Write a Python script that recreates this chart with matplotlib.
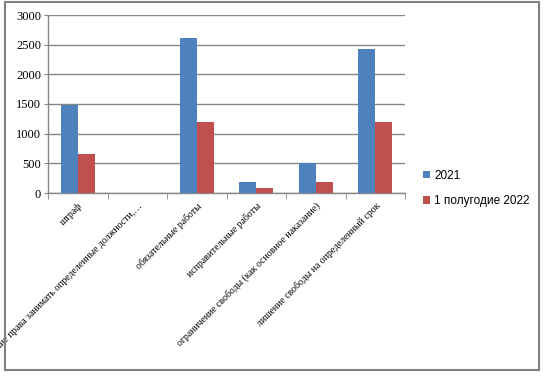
import matplotlib
matplotlib.use("Agg")
import matplotlib.pyplot as plt
import numpy as np
from matplotlib.patches import Rectangle

categories = ["штраф",
              "лишение права занимать определенные должности,…",
              "обязательные работы",
              "исправительные работы",
              "ограничение свободы (как основное наказание)",
              "лишение свободы на определенный срок"]
series_names = ["2021", "1 полугодие 2022"]
values_2021 = [1490, 0, 2620, 190, 500, 2420]
values_2022 = [660, 0, 1200, 90, 190, 1190]
yticks = [0, 500, 1000, 1500, 2000, 2500, 3000]

blue = "#4F81BD"
red = "#C0504D"
grey = "#868686"

fig = plt.figure(figsize=(5.46, 3.76), dpi=100)
fig.patches.append(Rectangle((5/546, 6/376), 534/546, 368/376, transform=fig.transFigure,
                             fill=False, edgecolor="#808080", linewidth=1.5))
ax = fig.add_axes([48/546, (376-193)/376, (405-48)/546, (193-15)/376])

x = np.arange(len(categories))
w = 0.285
ax.bar(x - w/2, values_2021, w, color=blue, label=series_names[0], zorder=3)
ax.bar(x + w/2, values_2022, w, color=red, label=series_names[1], zorder=3)

ax.set_xlim(-0.5, len(categories) - 0.5)
ax.set_ylim(0, 3000)
ax.set_yticks(yticks)
ax.set_yticklabels([str(v) for v in yticks], family="Liberation Serif", fontsize=9)
ax.yaxis.grid(True, color=grey, linewidth=1, zorder=0)
ax.tick_params(axis="y", length=3, color=grey, pad=2)

ax.set_xticks(x)
ax.set_xticklabels(categories, family="Liberation Serif", fontsize=7, rotation=45,
                   ha="right", va="top", rotation_mode="anchor")
ax.tick_params(axis="x", length=0, pad=6)
ax.set_xticks(np.arange(-0.5, len(categories)), minor=True)
ax.tick_params(axis="x", which="minor", length=4, color=grey)

for s in ["top", "right"]:
    ax.spines[s].set_visible(False)
for s in ["left", "bottom"]:
    ax.spines[s].set_color(grey)
    ax.spines[s].set_linewidth(1)

leg = fig.legend(loc="upper left", bbox_to_anchor=(412/546, 1 - 159/376), frameon=False,
                 prop={"family": "Liberation Sans", "size": 8.5}, handlelength=0.65,
                 handleheight=0.65, handletextpad=0.35, labelspacing=1.15)

fig.savefig("out.png", dpi=100)
